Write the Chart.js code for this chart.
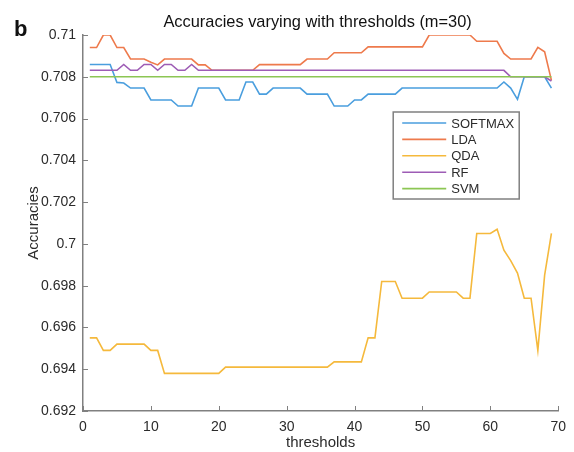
<!DOCTYPE html>
<html lang="en">
<head>
<meta charset="UTF-8">
<title>Accuracies varying with thresholds</title>
<script src="https://cdn.jsdelivr.net/npm/chart.js"></script>
<style>
  html, body { margin: 0; padding: 0; background: #fff; }
</style>
</head>
<body>
<canvas id="accChart" width="574" height="452"></canvas>
<script>
// x values (thresholds) and the five accuracy curves
const thresholds = [1, 2, 3, 4, 5, 6, 7, 8, 9, 10,
  11, 12, 13, 14, 15, 16, 17, 18, 19, 20,
  21, 22, 23, 24, 25, 26, 27, 28, 29, 30,
  31, 32, 33, 34, 35, 36, 37, 38, 39, 40,
  41, 42, 43, 44, 45, 46, 47, 48, 49, 50,
  51, 52, 53, 54, 55, 56, 57, 58, 59, 60,
  61, 62, 63, 64, 65, 66, 67, 68, 69];

const softmax = [0.70859, 0.70859, 0.70859, 0.70859, 0.70773, 0.7077, 0.70746, 0.70746, 0.70746, 0.70689,
  0.70689, 0.70689, 0.70689, 0.7066, 0.7066, 0.7066, 0.70746, 0.70746, 0.70746, 0.70746,
  0.70689, 0.70689, 0.70689, 0.70775, 0.70775, 0.70717, 0.70717, 0.70746, 0.70746, 0.70746,
  0.70746, 0.70746, 0.70717, 0.70717, 0.70717, 0.70717, 0.7066, 0.7066, 0.7066, 0.70689,
  0.70689, 0.70717, 0.70717, 0.70717, 0.70717, 0.70717, 0.70746, 0.70746, 0.70746, 0.70746,
  0.70746, 0.70746, 0.70746, 0.70746, 0.70746, 0.70746, 0.70746, 0.70746, 0.70746, 0.70746,
  0.70746, 0.70775, 0.70746, 0.70692, 0.708, 0.708, 0.708, 0.708, 0.70746];

const lda = [0.7094, 0.7094, 0.71, 0.71, 0.7094, 0.7094, 0.70885, 0.70885, 0.70885, 0.7087,
  0.70857, 0.70885, 0.70885, 0.70885, 0.70885, 0.70885, 0.70857, 0.70857, 0.70831, 0.70831,
  0.70831, 0.70831, 0.70831, 0.70831, 0.70831, 0.70858, 0.70858, 0.70858, 0.70858, 0.70858,
  0.70858, 0.70858, 0.70885, 0.70885, 0.70885, 0.70885, 0.70915, 0.70915, 0.70915, 0.70915,
  0.70915, 0.70943, 0.70943, 0.70943, 0.70943, 0.70943, 0.70943, 0.70943, 0.70943, 0.70943,
  0.71, 0.71, 0.71, 0.71, 0.71, 0.71, 0.71, 0.7097, 0.7097, 0.7097,
  0.7097, 0.70912, 0.70885, 0.70885, 0.70885, 0.70885, 0.70941, 0.7092, 0.70783];

const qda = [0.6955, 0.6955, 0.6949, 0.6949, 0.6952, 0.6952, 0.6952, 0.6952, 0.6952, 0.6949,
  0.6949, 0.6938, 0.6938, 0.6938, 0.6938, 0.6938, 0.6938, 0.6938, 0.6938, 0.6938,
  0.6941, 0.6941, 0.6941, 0.6941, 0.6941, 0.6941, 0.6941, 0.6941, 0.6941, 0.6941,
  0.6941, 0.6941, 0.6941, 0.6941, 0.6941, 0.6941, 0.69435, 0.69435, 0.69435, 0.69435,
  0.69435, 0.6955, 0.6955, 0.6982, 0.6982, 0.6982, 0.6974, 0.6974, 0.6974, 0.6974,
  0.6977, 0.6977, 0.6977, 0.6977, 0.6977, 0.6974, 0.6974, 0.7005, 0.7005, 0.7005,
  0.7007, 0.6997, 0.6992, 0.6986, 0.6974, 0.6974, 0.6949, 0.6985, 0.7005];

const rf = [0.70831, 0.70831, 0.70831, 0.70831, 0.70831, 0.70859, 0.70831, 0.70831, 0.70859, 0.70859,
  0.70831, 0.70859, 0.70859, 0.70831, 0.70831, 0.70859, 0.70831, 0.70831, 0.70831, 0.70831,
  0.70831, 0.70831, 0.70831, 0.70831, 0.70831, 0.70831, 0.70831, 0.70831, 0.70831, 0.70831,
  0.70831, 0.70831, 0.70831, 0.70831, 0.70831, 0.70831, 0.70831, 0.70831, 0.70831, 0.70831,
  0.70831, 0.70831, 0.70831, 0.70831, 0.70831, 0.70831, 0.70831, 0.70831, 0.70831, 0.70831,
  0.70831, 0.70831, 0.70831, 0.70831, 0.70831, 0.70831, 0.70831, 0.70831, 0.70831, 0.70831,
  0.70831, 0.70831, 0.708, 0.708, 0.708, 0.708, 0.708, 0.708, 0.7078];

const svm = [0.708, 0.708, 0.708, 0.708, 0.708, 0.708, 0.708, 0.708, 0.708, 0.708,
  0.708, 0.708, 0.708, 0.708, 0.708, 0.708, 0.708, 0.708, 0.708, 0.708,
  0.708, 0.708, 0.708, 0.708, 0.708, 0.708, 0.708, 0.708, 0.708, 0.708,
  0.708, 0.708, 0.708, 0.708, 0.708, 0.708, 0.708, 0.708, 0.708, 0.708,
  0.708, 0.708, 0.708, 0.708, 0.708, 0.708, 0.708, 0.708, 0.708, 0.708,
  0.708, 0.708, 0.708, 0.708, 0.708, 0.708, 0.708, 0.708, 0.708, 0.708,
  0.708, 0.708, 0.708, 0.708, 0.708, 0.708, 0.708, 0.708, 0.708];

const seriesNames = ['SOFTMAX', 'LDA', 'QDA', 'RF', 'SVM'];
const seriesValues = [softmax, lda, qda, rf, svm];
const seriesColors = ['#4a9ede', '#ee7a4c', '#f5b93c', '#9d5cb5', '#8cc653'];

const FONT = "'Liberation Sans', Arial, sans-serif";
const axisGray = '#808080';
const textGray = '#2b2b2b';

// title and the panel letter
const panelText = {
    id: 'panelText',
    afterDraw(chart) {
        const ctx = chart.ctx;
        const a = chart.chartArea;
        ctx.save();
        ctx.fillStyle = '#111';
        ctx.textBaseline = 'alphabetic';
        ctx.font = 'bold 22px ' + FONT;
        ctx.textAlign = 'left';
        ctx.fillText('b', 14, 36);
        ctx.font = '16.4px ' + FONT;
        ctx.textAlign = 'center';
        ctx.fillText('Accuracies varying with thresholds (m=30)', (a.left + a.right) / 2 - 3, 27);
        ctx.restore();
    }
};

// matlab style ticks pointing into the plot
const inwardTicks = {
    id: 'inwardTicks',
    afterDatasetsDraw(chart) {
        const {ctx, chartArea: a, scales: {x, y}} = chart;
        ctx.save();
        ctx.strokeStyle = axisGray;
        ctx.lineWidth = 1;
        ctx.beginPath();
        x.ticks.forEach(t => {
            const px = Math.round(x.getPixelForValue(t.value)) + 0.5;
            ctx.moveTo(px, a.bottom);
            ctx.lineTo(px, a.bottom - 5);
        });
        y.ticks.forEach(t => {
            const py = Math.round(y.getPixelForValue(t.value)) + 0.5;
            ctx.moveTo(a.left, py);
            ctx.lineTo(a.left + 5, py);
        });
        ctx.stroke();
        ctx.restore();
    }
};

// legend box inside the plot, upper right
const boxLegend = {
    id: 'boxLegend',
    afterDraw(chart) {
        const ctx = chart.ctx;
        const a = chart.chartArea;
        const bx = a.right - 165, by = a.top + 77, bw = 126, bh = 87;
        ctx.save();
        ctx.fillStyle = '#fff';
        ctx.fillRect(bx, by, bw, bh);
        ctx.strokeStyle = axisGray;
        ctx.lineWidth = 1.5;
        ctx.strokeRect(bx, by, bw, bh);
        ctx.font = '13px ' + FONT;
        ctx.textAlign = 'left';
        ctx.textBaseline = 'middle';
        chart.data.datasets.forEach((ds, i) => {
            const ry = by + 11 + i * 16.4;
            ctx.strokeStyle = ds.borderColor;
            ctx.lineWidth = 1.6;
            ctx.beginPath();
            ctx.moveTo(bx + 9, ry);
            ctx.lineTo(bx + 53, ry);
            ctx.stroke();
            ctx.fillStyle = textGray;
            ctx.fillText(ds.label, bx + 58, ry + 1);
        });
        ctx.restore();
    }
};

const datasets = seriesNames.map((name, i) => ({
    label: name,
    data: thresholds.map((t, k) => ({x: t, y: seriesValues[i][k]})),
    borderColor: seriesColors[i],
    backgroundColor: seriesColors[i],
    borderWidth: 1.6,
    pointRadius: 0,
    tension: 0,
    fill: false,
    order: seriesNames.length - i
}));

new Chart(document.getElementById('accChart'), {
    type: 'line',
    data: { datasets: datasets },
    options: {
        responsive: false,
        animation: false,
        devicePixelRatio: 1,
        layout: { padding: { top: 35, right: 15, left: 0, bottom: 0 } },
        plugins: {
            legend: { display: false },
            tooltip: { enabled: false }
        },
        scales: {
            x: {
                type: 'linear',
                min: 0,
                max: 70,
                grid: { display: false, drawTicks: false, tickLength: 0 },
                border: { color: axisGray, width: 1.5 },
                ticks: { stepSize: 10, padding: 8, color: textGray, font: { family: FONT, size: 14 } },
                title: { display: true, text: 'thresholds', color: textGray,
                         font: { family: FONT, size: 15 }, padding: { top: 0, bottom: 0 } },
                afterFit: s => { s.height = 41; }
            },
            y: {
                type: 'linear',
                min: 0.692,
                max: 0.71,
                grid: { display: false, drawTicks: false, tickLength: 0 },
                border: { color: axisGray, width: 1.5 },
                ticks: {
                    stepSize: 0.002,
                    padding: 7,
                    color: textGray,
                    font: { family: FONT, size: 14 },
                    callback: v => String(Number(v.toFixed(3)))
                },
                title: { display: true, text: 'Accuracies', color: textGray,
                         font: { family: FONT, size: 15 }, padding: { top: 25, bottom: 0 } },
                afterFit: s => { s.width = 83; }
            }
        }
    },
    plugins: [inwardTicks, boxLegend, panelText]
});
</script>
</body>
</html>
